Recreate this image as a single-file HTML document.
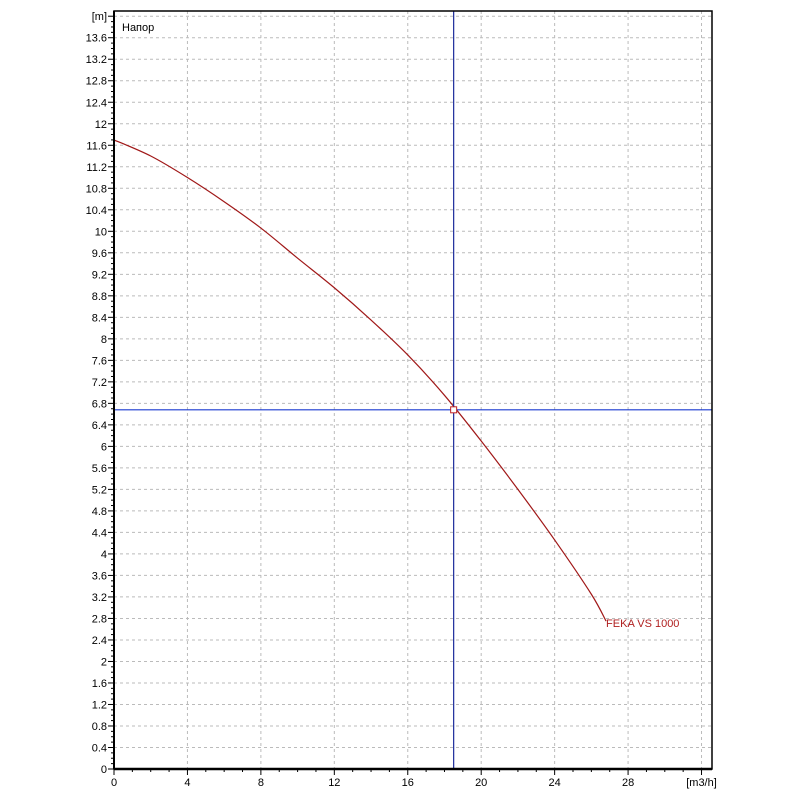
<!DOCTYPE html>
<html><head><meta charset="utf-8"><style>
html,body{margin:0;padding:0;background:#fff;}
svg{display:block;font-family:"Liberation Sans",Arial,sans-serif;}
</style></head><body>
<svg id="chart" width="800" height="800">
<rect x="0" y="0" width="800" height="800" fill="#fff"/>
<g id="grid"></g>
<g id="ticks"></g>
<g id="series"></g>
<rect x="114" y="11" width="598" height="758" fill="none" stroke="#000" stroke-width="1.5"/>
<line x1="114" y1="769" x2="712" y2="769" stroke="#000" stroke-width="2.5"/>
<line x1="114" y1="11" x2="114" y2="769" stroke="#000" stroke-width="2"/>
<text x="122" y="31" font-size="11" fill="#000">Напор</text>
</svg>
<script>
const xTicks=[0,4,8,12,16,20,24,28];
const yTicks=[0,0.4,0.8,1.2,1.6,2,2.4,2.8,3.2,3.6,4,4.4,4.8,5.2,5.6,6,6.4,6.8,7.2,7.6,8,8.4,8.8,9.2,9.6,10,10.4,10.8,11.2,11.6,12,12.4,12.8,13.2,13.6];
const flowValues=[0,2,4,6,8,10,12,14,16,18,20,22,24,26,26.8];
const headValues=[11.7,11.4,11.0,10.55,10.06,9.5,8.95,8.35,7.7,6.95,6.1,5.2,4.26,3.25,2.75];
const opFlow=[18.5];
const opHead=[6.68];
const seriesName="FEKA VS 1000";
const X0=114,PX=18.36,Y0=769,PY=53.77;
const sx=v=>X0+v*PX, sy=v=>Y0-v*PY;
const NS="http://www.w3.org/2000/svg";
function mk(t,a,p){const e=document.createElementNS(NS,t);for(const k in a)e.setAttribute(k,a[k]);p.appendChild(e);return e;}
const grid=document.getElementById('grid'),ticks=document.getElementById('ticks'),ser=document.getElementById('series');
const gx=xTicks.concat([32]);
gx.forEach(v=>{if(v===0)return;const l=mk('line',{x1:sx(v),y1:11,x2:sx(v),y2:769,stroke:'#bbb','stroke-dasharray':'3,3'},grid);

});
yTicks.concat([14]).forEach(v=>{if(v===0)return;const l=mk('line',{x1:114,y1:sy(v),x2:712,y2:sy(v),stroke:'#bbb','stroke-dasharray':'3,3'},grid);

});
for(let i=0;i<=32;i++){mk('line',{x1:sx(i),y1:769,x2:sx(i),y2:i%4==0?775:772,stroke:'#000'},ticks);}
for(let i=0;i<=140;i++){const v=i/10;mk('line',{x1:i%4==0?108:111,y1:sy(v),x2:114,y2:sy(v),stroke:'#000'},ticks);}
xTicks.forEach(v=>{const t=mk('text',{x:sx(v),y:786,'font-size':11,'text-anchor':'middle'},ticks);t.textContent=String(v);

});
yTicks.forEach(v=>{const t=mk('text',{x:107,y:sy(v)+4,'font-size':11,'text-anchor':'end'},ticks);t.textContent=String(v);

});
const xu=mk('text',{x:sx(32),y:786,'font-size':11,'text-anchor':'middle'},ticks);xu.textContent='[m3/h]';


const yu=mk('text',{x:107,y:sy(14)+4,'font-size':11,'text-anchor':'end'},ticks);yu.textContent='[m]';


const pts=flowValues.map((f,i)=>[sx(f),sy(headValues[i])]);
let d='M'+pts[0][0]+','+pts[0][1];
for(let i=0;i<pts.length-1;i++){const p0=pts[Math.max(0,i-1)],p1=pts[i],p2=pts[i+1],p3=pts[Math.min(pts.length-1,i+2)];
d+=' C'+(p1[0]+(p2[0]-p0[0])/6)+','+(p1[1]+(p2[1]-p0[1])/6)+' '+(p2[0]-(p3[0]-p1[0])/6)+','+(p2[1]-(p3[1]-p1[1])/6)+' '+p2[0]+','+p2[1];}
const c=mk('path',{d:d,fill:'none',stroke:'#a01818','stroke-width':1.2},ser);


const last=pts[pts.length-1];
const lb=mk('text',{x:last[0],y:last[1]+6,'font-size':11,fill:'#b02020'},ser);lb.textContent=seriesName;


const vx=mk('line',{x1:sx(opFlow[0]),y1:11,x2:sx(opFlow[0]),y2:769,stroke:'#1a2a9a','stroke-width':1.2},ser);


const hy=mk('line',{x1:114,y1:sy(opHead[0]),x2:712,y2:sy(opHead[0]),stroke:'#1a3ad0','stroke-width':1.2},ser);


const m=mk('rect',{x:sx(opFlow[0])-3,y:sy(opHead[0])-3,width:6,height:6,fill:'#fff',stroke:'#c02020','stroke-width':1},ser);


</script>
</body></html>
